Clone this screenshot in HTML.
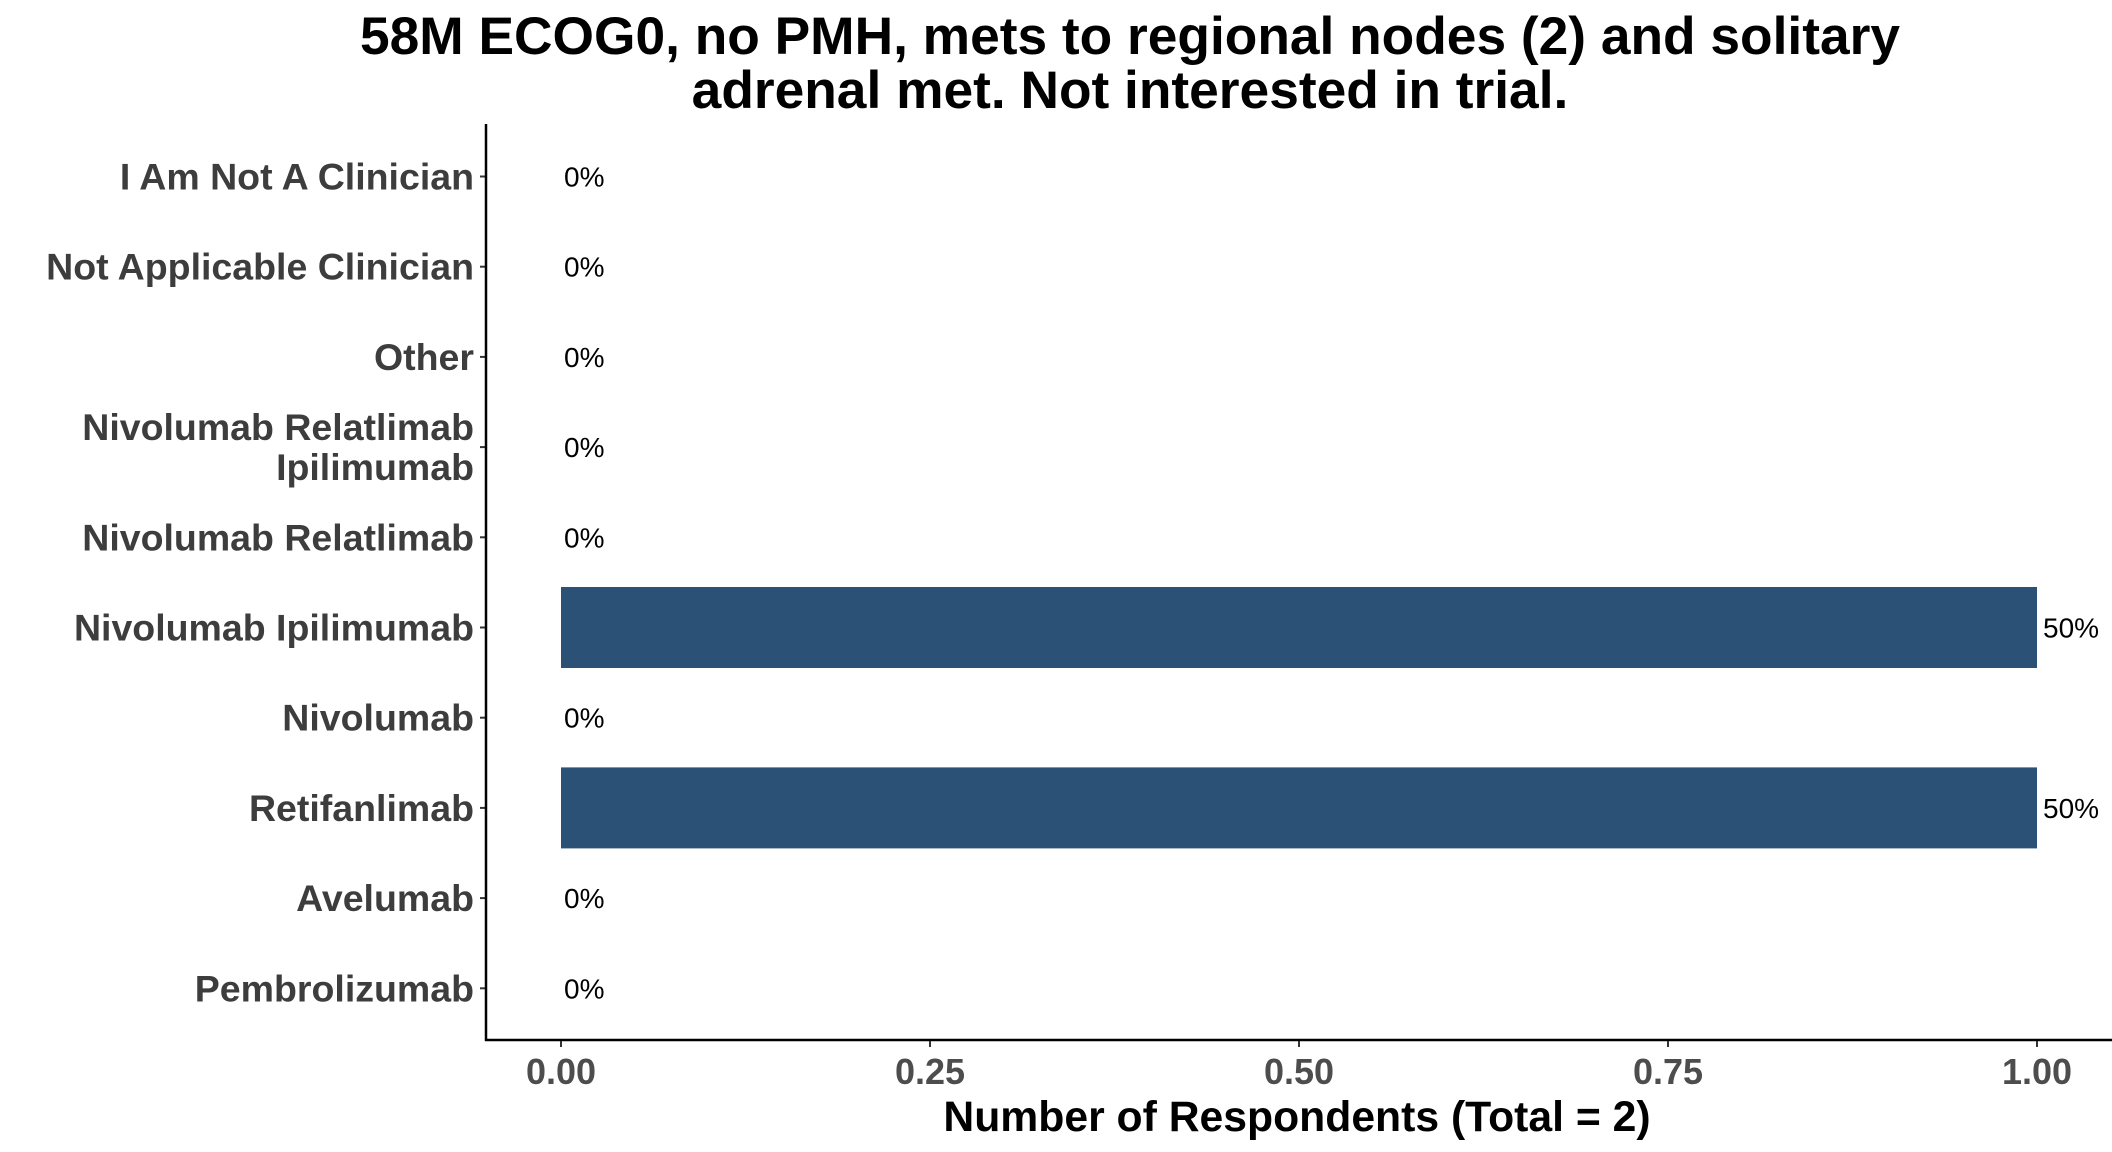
<!DOCTYPE html>
<html><head><meta charset="utf-8"><style>
html,body{margin:0;padding:0;background:#fff;}
svg{display:block;font-family:"Liberation Sans",Arial,sans-serif;}
</style></head><body>
<svg id="chart" width="2112" height="1152" viewBox="0 0 2112 1152">
<text x="1130" y="54" text-anchor="middle" font-size="53.3" font-weight="bold" fill="#000">58M ECOG0, no PMH, mets to regional nodes (2) and solitary</text>
<text x="1130" y="108" text-anchor="middle" font-size="53.3" font-weight="bold" fill="#000">adrenal met. Not interested in trial.</text>
<g id="plot"></g>
<text x="1297" y="1131" text-anchor="middle" font-size="42.7" font-weight="bold" fill="#000">Number of Respondents (Total = 2)</text>
</svg>
<script>
const categories = ["I Am Not A Clinician","Not Applicable Clinician","Other","Nivolumab Relatlimab|Ipilimumab","Nivolumab Relatlimab","Nivolumab Ipilimumab","Nivolumab","Retifanlimab","Avelumab","Pembrolizumab"];
const values = [0,0,0,0,0,1,0,1,0,0];
const pctLabels = ["0%","0%","0%","0%","0%","50%","0%","50%","0%","0%"];
const xTicks = [0,0.25,0.5,0.75,1];
const xTickLabels = ["0.00","0.25","0.50","0.75","1.00"];

const NS="http://www.w3.org/2000/svg";
const g=document.getElementById('plot');
const x0=561,x1=2037;
const xs=v=>x0+(x1-x0)*v;
const yTop=176.5,step=90.2;
const ys=i=>yTop+i*step;
function mk(t,a){const e=document.createElementNS(NS,t);for(const k in a)e.setAttribute(k,a[k]);g.appendChild(e);return e;}

categories.forEach((c,i)=>{
  const y=ys(i);
  if(values[i]>0){
    const r=mk('rect',{x:xs(0),y:y-40.5,width:xs(values[i])-xs(0),height:81,fill:'#2c5177'});
    
    
  }
  const lab=mk('text',{x:xs(values[i])+(values[i]>0?6:3),y:y+10,'font-size':28,fill:'#000'});
  lab.textContent=pctLabels[i];
  
  
  const tk=mk('line',{x1:480,x2:486,y1:y,y2:y,stroke:'#333','stroke-width':2});
  
  
  const parts=c.split('|');
  const t=mk('text',{x:474,'text-anchor':'end','font-size':37.5,'font-weight':'bold',fill:'#3d3d3d'});
  
  
  parts.forEach((p,j)=>{
    const s=document.createElementNS(NS,'tspan');
    s.setAttribute('x',474);
    s.setAttribute('y',y+13+(j-(parts.length-1)/2)*40);
    s.textContent=p;t.appendChild(s);
  });
});
const ya=mk('line',{x1:486,x2:486,y1:124,y2:1041,stroke:'#000','stroke-width':2.5});


const xa=mk('line',{x1:485,x2:2112,y1:1040,y2:1040,stroke:'#000','stroke-width':2.5});


xTicks.forEach((v,i)=>{
  const l=mk('line',{x1:xs(v),x2:xs(v),y1:1041,y2:1047,stroke:'#333','stroke-width':2});
  
  
  const t=mk('text',{x:xs(v),y:1084,'text-anchor':'middle','font-size':36,'font-weight':'bold',fill:'#4d4d4d'});
  t.textContent=xTickLabels[i];
  
  
});
</script>
</body></html>
